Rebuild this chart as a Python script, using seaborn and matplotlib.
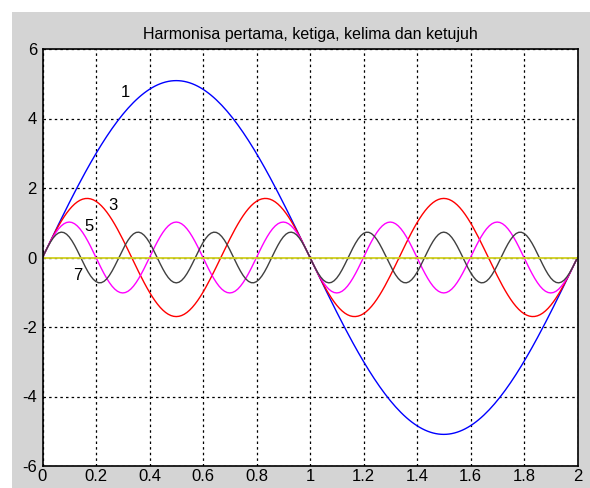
import numpy as np
import pandas as pd
import matplotlib
matplotlib.use("Agg")
import matplotlib.pyplot as plt
import seaborn as sns
from matplotlib.patches import Rectangle

# Data
harmonic_orders = [1, 3, 5, 7]
amplitudes = [5.09, 1.70, 1.02, 0.73]
period = 2.0
series_colors = ["#0000ff", "#ff0000", "#ff00ff", "#404040"]
label_text = ["1", "3", "5", "7"]
label_x = [0.31, 0.265, 0.175, 0.13]
label_y = [4.75, 1.5, 0.88, -0.52]
x_ticks = [0, 0.2, 0.4, 0.6, 0.8, 1, 1.2, 1.4, 1.6, 1.8, 2]
x_tick_labels = ["0", "0.2", "0.4", "0.6", "0.8", "1", "1.2", "1.4", "1.6", "1.8", "2"]
y_ticks = [-6, -4, -2, 0, 2, 4, 6]
title = "Harmonisa pertama, ketiga, kelima dan ketujuh"

t = np.linspace(0, period, 201)
frames = []
for n, a in zip(harmonic_orders, amplitudes):
    frames.append(pd.DataFrame({"t": t, "y": a * np.sin(2 * np.pi * n * t / period),
                                "h": str(n)}))
df = pd.concat(frames, ignore_index=True)
zero_df = pd.DataFrame({"t": [0, period], "y": [0, 0]})

sns.set_style("white")
plt.rcParams["font.family"] = ["Liberation Sans", "DejaVu Sans"]
plt.rcParams["axes.unicode_minus"] = False
plt.rcParams["text.color"] = "black"

fig = plt.figure(figsize=(5.9, 4.88), dpi=100, facecolor="white")
fig.patches.append(Rectangle((12 / 590, 0), 1 - 12 / 590, (488 - 12) / 488,
                             transform=fig.transFigure, facecolor="#d4d4d4",
                             edgecolor="none", zorder=-10))
ax = fig.add_axes([42.5 / 590, 1 - 466 / 488, 535 / 590, 417 / 488])
ax.set_facecolor("white")

sns.lineplot(data=df, x="t", y="y", hue="h", palette=dict(zip(label_text, series_colors)),
             ax=ax, legend=False, linewidth=1.0, sort=False, estimator=None)
sns.lineplot(data=zero_df, x="t", y="y", ax=ax, color="#d0d020", linewidth=1.3)

for s, xx, yy in zip(label_text, label_x, label_y):
    ax.text(xx, yy, s, fontsize=12, ha="center", va="center", color="black")

ax.set_xlim(0, 2)
ax.set_ylim(-6, 6)
ax.set_xticks(x_ticks)
ax.set_xticklabels(x_tick_labels)
ax.set_yticks(y_ticks)
ax.grid(True, color="black", linestyle=(0, (2, 2.5)), linewidth=0.9)
ax.set_axisbelow(True)
ax.tick_params(direction="in", length=4, width=1, labelsize=12, colors="black")
ax.tick_params(axis="y", pad=4)
ax.tick_params(axis="x", pad=2)
for sp in ax.spines.values():
    sp.set_visible(True)
    sp.set_color("black")
    sp.set_linewidth(1.2)
ax.set_xlabel("")
ax.set_ylabel("")
ax.set_title(title, fontsize=11.5, pad=7, color="black")

fig.savefig("out.png", dpi=100, facecolor="white")
